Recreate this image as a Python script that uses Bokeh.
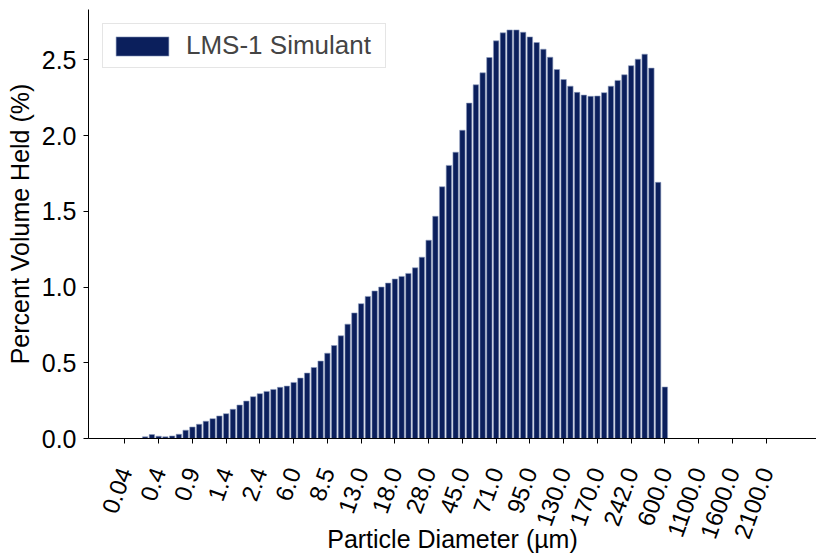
import math
from bokeh.plotting import figure
from bokeh.models import Range1d, FixedTicker, PrintfTickFormatter, ColumnDataSource
from bokeh.embed import file_html
from bokeh.resources import INLINE

# Category tick labels (every 5th size bin of 100 bins)
tick_positions = list(range(0, 100, 5))
tick_labels = ["0.04", "0.4", "0.9", "1.4", "2.4", "6.0", "8.5", "13.0", "18.0", "28.0",
               "45.0", "71.0", "95.0", "130.0", "170.0", "242.0", "600.0", "1100.0",
               "1600.0", "2100.0"]

# Percent volume held per size bin (bins 0..80; remaining bins are zero)
volume = [0.0, 0.0, 0.0,
          0.011, 0.026, 0.015, 0.011, 0.017, 0.028, 0.055, 0.076, 0.094, 0.114,
          0.131, 0.149, 0.164, 0.193, 0.221, 0.247, 0.276, 0.296, 0.311, 0.324,
          0.338, 0.346, 0.370, 0.399, 0.432, 0.469, 0.511, 0.563, 0.614, 0.678,
          0.755, 0.829, 0.890, 0.938, 0.974, 1.000, 1.026, 1.053, 1.070, 1.090,
          1.127, 1.197, 1.309, 1.467, 1.662, 1.803, 1.890, 2.035, 2.214, 2.335,
          2.414, 2.515, 2.625, 2.678, 2.697, 2.697, 2.682, 2.651, 2.614, 2.570,
          2.517, 2.436, 2.370, 2.326, 2.285, 2.267, 2.259, 2.261, 2.283, 2.326,
          2.364, 2.401, 2.461, 2.504, 2.537, 2.445, 1.691, 0.340]
bin_index = list(range(len(volume)))

FONT = "Liberation Sans"

src = ColumnDataSource(data=dict(x=bin_index, top=volume))

p = figure(width=816, height=556, output_backend="svg", toolbar_location=None,
           title=None,
           x_range=Range1d(-5.39, 102.46), y_range=Range1d(0, 2.832),
           min_border_left=88, min_border_right=0, min_border_top=9,
           min_border_bottom=117)

p.vbar(x="x", top="top", width=0.8, source=src, fill_color="#0b1f5c",
       line_color="#8e9dc0", line_width=0.6, legend_label="LMS-1 Simulant")

p.outline_line_color = None
p.xgrid.visible = False
p.ygrid.visible = False

for ax in (p.xaxis[0], p.yaxis[0]):
    ax.axis_line_color = "black"
    ax.axis_line_width = 1
    ax.major_tick_line_color = "black"
    ax.major_tick_out = 5
    ax.major_tick_in = 0
    ax.minor_tick_line_color = None
    ax.major_label_text_font = FONT
    ax.major_label_text_font_size = "25px"
    ax.major_label_text_color = "black"
    ax.axis_label_text_font = FONT
    ax.axis_label_text_font_size = "25px"
    ax.axis_label_text_font_style = "normal"
    ax.axis_label_text_color = "black"

p.xaxis.ticker = FixedTicker(ticks=tick_positions)
p.xaxis.major_label_overrides = {pos: lab for pos, lab in zip(tick_positions, tick_labels)}
p.xaxis.major_label_orientation = math.radians(70)
p.xaxis.major_label_text_font_size = "24px"
p.xaxis.major_label_standoff = 25
p.xaxis.axis_label = "Particle Diameter (µm)"
p.xaxis.axis_label_standoff = -21

p.yaxis.ticker = FixedTicker(ticks=[0.0, 0.5, 1.0, 1.5, 2.0, 2.5])
p.yaxis.formatter = PrintfTickFormatter(format="%.1f")
p.yaxis.major_label_standoff = 7
p.yaxis.axis_label = "Percent Volume Held (%)"
p.yaxis.axis_label_standoff = 5

lg = p.legend[0]
lg.location = "top_left"
lg.margin = 14
lg.padding = 6
lg.glyph_width = 66
lg.glyph_height = 24
lg.label_height = 30
lg.label_width = 193
lg.label_standoff = 11
lg.label_text_font = FONT
lg.label_text_font_size = "26px"
lg.border_line_color = "#cccccc"
lg.border_line_width = 1
lg.background_fill_alpha = 0.8

open("out.html", "w").write(file_html(p, INLINE))
